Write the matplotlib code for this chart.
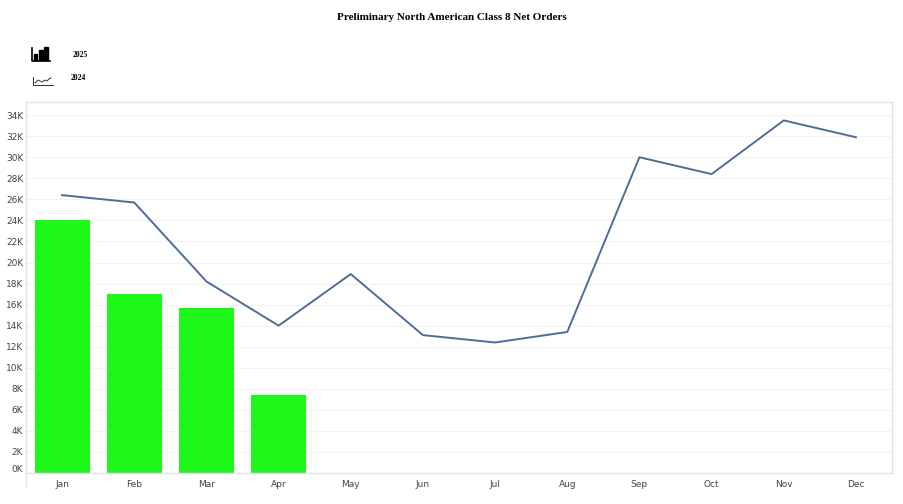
import matplotlib
matplotlib.use("Agg")
import matplotlib.pyplot as plt
import matplotlib.transforms as mtransforms
from matplotlib.patches import Rectangle
from matplotlib.lines import Line2D

months = ["Jan", "Feb", "Mar", "Apr", "May", "Jun",
          "Jul", "Aug", "Sep", "Oct", "Nov", "Dec"]
orders_2025 = [24.0, 17.0, 15.7, 7.4]
orders_2024 = [26.4, 25.7, 18.2, 14.0, 18.9, 13.1,
               12.4, 13.4, 30.0, 28.4, 33.5, 31.9]
y_ticks = list(range(0, 35, 2))
y_labels = ["%dK" % v for v in y_ticks]

title = "Preliminary North American Class 8 Net Orders"
bar_color = "#1ef71a"
line_color = "#4f6d95"
frame_color = "#e2e2e2"

fig = plt.figure(figsize=(9.04, 5.04), dpi=100)
ax = fig.add_axes([26 / 904, 1 - 473 / 504, 866 / 904, 371 / 504])

x = list(range(len(months)))
ax.bar(x[:len(orders_2025)], orders_2025, width=0.76, color=bar_color, zorder=2)
ax.plot(x, orders_2024, color=line_color, linewidth=1.4, zorder=3)

ax.set_xlim(-0.5, len(months) - 0.5)
ax.set_ylim(0, 35.25)
ax.set_xticks(x)
ax.set_xticklabels(months)
ax.set_yticks(y_ticks)
ax.set_yticklabels(y_labels)
ax.tick_params(axis="both", length=0, labelsize=6.5, labelcolor="#444444")
ax.tick_params(axis="y", pad=2)
ax.tick_params(axis="x", pad=5)
ax.grid(axis="y", color="#f3f3f3", linewidth=0.8, zorder=0)
ax.set_axisbelow(True)
for s in ax.spines.values():
    s.set_color(frame_color)
    s.set_linewidth(1.0)

# nudge the 0K label up, like the original
lbl0 = ax.get_yticklabels()[0]
lbl0.set_transform(lbl0.get_transform() +
                   mtransforms.ScaledTranslation(0, 5 / 100, fig.dpi_scale_trans))

# left rule running below the axis
fig.add_artist(Line2D([26 / 904, 26 / 904], [1 - 486 / 504, 1 - 473 / 504],
                      color=frame_color, linewidth=1.0))

fig.text(0.5, 1 - 18 / 504, title, ha="center", va="center",
         fontsize=8, fontweight="bold", family="Liberation Serif")

# legend icons, in pixel coords
def px(xp, yp):
    return xp / 904, 1 - yp / 504

# bar icon
for bx, bw, bh in [(34.5, 3, 6), (39.5, 3.5, 9), (44.5, 4, 12)]:
    x0, y0 = px(bx, 59.5)
    fig.add_artist(Rectangle((x0, y0), bw / 904, bh / 504, color="black",
                             transform=fig.transFigure))
fig.add_artist(Line2D([px(32, 0)[0], px(32, 0)[0], px(50, 0)[0]],
                      [px(0, 48)[1], px(0, 61)[1], px(0, 61)[1]],
                      color="black", linewidth=1.2))
fig.text(*px(73, 55), "2025", ha="left", va="center", fontsize=5.5,
         fontweight="bold", family="Liberation Serif")

# line icon
fig.add_artist(Line2D([px(33, 0)[0], px(33, 0)[0], px(53, 0)[0]],
                      [px(0, 77)[1], px(0, 85)[1], px(0, 85)[1]],
                      color="#333333", linewidth=0.7))
ix = [35, 38, 40, 42, 45, 47, 49, 51]
iy = [83, 80, 81, 82, 80, 81, 79, 78]
fig.add_artist(Line2D([px(v, 0)[0] for v in ix], [px(0, v)[1] for v in iy],
                      color="#333333", linewidth=0.7))
fig.text(*px(71, 78), "2024", ha="left", va="center", fontsize=5.5,
         fontweight="bold", family="Liberation Serif")

fig.savefig("out.png", dpi=100)
